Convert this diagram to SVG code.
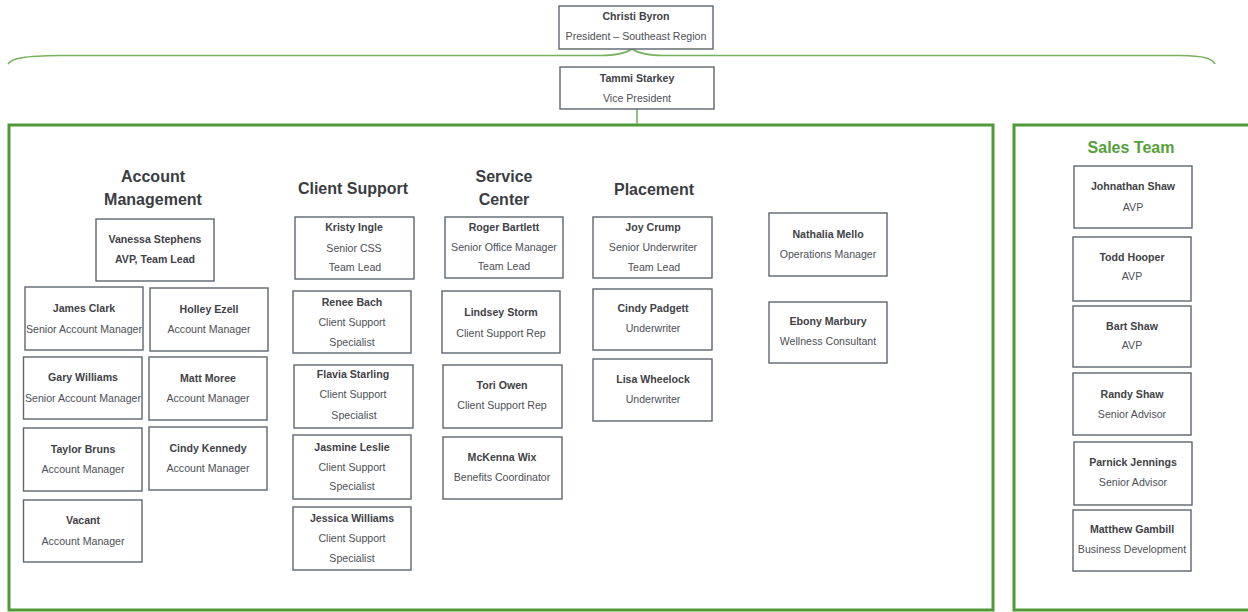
<svg xmlns="http://www.w3.org/2000/svg" width="1248" height="612" viewBox="0 0 1248 612">
  <style>
    .box { fill: #ffffff; stroke: #5f666e; stroke-width: 1.4; }
    .frame { fill: none; stroke: #4f9a37; stroke-width: 3; }
    .link { fill: none; stroke: #78b25e; stroke-width: 1.6; }
    text { font-family: "Liberation Sans", Arial, sans-serif; text-anchor: middle; dominant-baseline: central; }
    .nm { font-size: 10.6px; font-weight: bold; fill: #3f4247; }
    .tt { font-size: 10.6px; fill: #4d5056; }
    .hd { font-size: 16px; font-weight: bold; fill: #3a3d42; }
    .hd-green { font-size: 16px; font-weight: bold; fill: #55a03a; }
  </style>

  <rect width="1248" height="612" fill="#ffffff"/>

  <!-- department frames -->
  <g id="frames">
    <rect class="frame" x="9" y="125" width="984" height="485"/>
    <rect class="frame" x="1014" y="125" width="240" height="485"/>
  </g>

  <!-- connectors -->
  <g id="connectors">
    <path class="link" d="M8,64 C12,58 24,56 60,55.5 L600,55.5 C618,55.5 626,53 632,49 C638,53 646,55.5 664,55.5 L1180,55.5 C1204,56 1212,58 1215,64"/>
    <line class="link" x1="637" y1="109" x2="637" y2="124"/>
  </g>

  <!-- executives -->
  <g id="christi-byron">
    <rect class="box" x="559" y="6" width="154" height="43"/>
    <text class="nm" x="636" y="16">Christi Byron</text>
    <text class="tt" x="636" y="36">President – Southeast Region</text>
  </g>
  <g id="tammi-starkey">
    <rect class="box" x="560" y="67" width="154" height="42"/>
    <text class="nm" x="637" y="78">Tammi Starkey</text>
    <text class="tt" x="637" y="98">Vice President</text>
  </g>

  <!-- Account Management -->
  <g id="hdr-account-management">
    <text class="hd" x="153" y="176">Account</text>
    <text class="hd" x="153" y="199">Management</text>
  </g>
  <g id="vanessa-stephens">
    <rect class="box" x="96" y="219" width="118" height="62"/>
    <text class="nm" x="155" y="239">Vanessa Stephens</text>
    <text class="nm" x="155" y="259">AVP, Team Lead</text>
  </g>
  <g id="james-clark">
    <rect class="box" x="25" y="287" width="118" height="63"/>
    <text class="nm" x="84" y="308">James Clark</text>
    <text class="tt" x="84" y="329">Senior Account Manager</text>
  </g>
  <g id="holley-ezell">
    <rect class="box" x="150" y="288" width="118" height="63"/>
    <text class="nm" x="209" y="309">Holley Ezell</text>
    <text class="tt" x="209" y="329">Account Manager</text>
  </g>
  <g id="gary-williams">
    <rect class="box" x="23.5" y="357" width="118.5" height="62"/>
    <text class="nm" x="83" y="377">Gary Williams</text>
    <text class="tt" x="83" y="398">Senior Account Manager</text>
  </g>
  <g id="matt-moree">
    <rect class="box" x="149" y="357" width="118" height="63"/>
    <text class="nm" x="208" y="378">Matt Moree</text>
    <text class="tt" x="208" y="398">Account Manager</text>
  </g>
  <g id="taylor-bruns">
    <rect class="box" x="23.5" y="428" width="118.5" height="63"/>
    <text class="nm" x="83" y="449">Taylor Bruns</text>
    <text class="tt" x="83" y="469">Account Manager</text>
  </g>
  <g id="cindy-kennedy">
    <rect class="box" x="149" y="427" width="118" height="63"/>
    <text class="nm" x="208" y="448">Cindy Kennedy</text>
    <text class="tt" x="208" y="468">Account Manager</text>
  </g>
  <g id="vacant">
    <rect class="box" x="23.5" y="500" width="118.5" height="62"/>
    <text class="nm" x="83" y="520">Vacant</text>
    <text class="tt" x="83" y="541">Account Manager</text>
  </g>

  <!-- Client Support -->
  <g id="hdr-client-support">
    <text class="hd" x="353" y="188">Client Support</text>
  </g>
  <g id="kristy-ingle">
    <rect class="box" x="295" y="217" width="119" height="62"/>
    <text class="nm" x="354" y="227">Kristy Ingle</text>
    <text class="tt" x="354" y="248">Senior CSS</text>
    <text class="tt" x="355" y="267">Team Lead</text>
  </g>
  <g id="renee-bach">
    <rect class="box" x="293" y="291" width="118" height="62"/>
    <text class="nm" x="352" y="302">Renee Bach</text>
    <text class="tt" x="352" y="322">Client Support</text>
    <text class="tt" x="352" y="342">Specialist</text>
  </g>
  <g id="flavia-starling">
    <rect class="box" x="294" y="365" width="119" height="63"/>
    <text class="nm" x="353" y="374">Flavia Starling</text>
    <text class="tt" x="353" y="394">Client Support</text>
    <text class="tt" x="354" y="415">Specialist</text>
  </g>
  <g id="jasmine-leslie">
    <rect class="box" x="293" y="435" width="118" height="64"/>
    <text class="nm" x="352" y="447">Jasmine Leslie</text>
    <text class="tt" x="352" y="467">Client Support</text>
    <text class="tt" x="352" y="486">Specialist</text>
  </g>
  <g id="jessica-williams">
    <rect class="box" x="293" y="507" width="118" height="63"/>
    <text class="nm" x="352" y="518">Jessica Williams</text>
    <text class="tt" x="352" y="538">Client Support</text>
    <text class="tt" x="352" y="558">Specialist</text>
  </g>

  <!-- Service Center -->
  <g id="hdr-service-center">
    <text class="hd" x="504" y="176">Service</text>
    <text class="hd" x="504" y="199">Center</text>
  </g>
  <g id="roger-bartlett">
    <rect class="box" x="445" y="217" width="118" height="61"/>
    <text class="nm" x="504" y="227">Roger Bartlett</text>
    <text class="tt" x="504" y="247">Senior Office Manager</text>
    <text class="tt" x="504" y="266">Team Lead</text>
  </g>
  <g id="lindsey-storm">
    <rect class="box" x="442" y="291" width="118" height="62"/>
    <text class="nm" x="501" y="312">Lindsey Storm</text>
    <text class="tt" x="501" y="333">Client Support Rep</text>
  </g>
  <g id="tori-owen">
    <rect class="box" x="443" y="365" width="119" height="63"/>
    <text class="nm" x="502" y="385">Tori Owen</text>
    <text class="tt" x="502" y="405">Client Support Rep</text>
  </g>
  <g id="mckenna-wix">
    <rect class="box" x="443" y="437" width="119" height="62"/>
    <text class="nm" x="502" y="457">McKenna Wix</text>
    <text class="tt" x="502" y="477">Benefits Coordinator</text>
  </g>

  <!-- Placement -->
  <g id="hdr-placement">
    <text class="hd" x="654" y="189">Placement</text>
  </g>
  <g id="joy-crump">
    <rect class="box" x="593" y="217" width="119" height="61"/>
    <text class="nm" x="653" y="227">Joy Crump</text>
    <text class="tt" x="653" y="247">Senior Underwriter</text>
    <text class="tt" x="654" y="267">Team Lead</text>
  </g>
  <g id="cindy-padgett">
    <rect class="box" x="593" y="289" width="119" height="61"/>
    <text class="nm" x="653" y="308">Cindy Padgett</text>
    <text class="tt" x="653" y="328">Underwriter</text>
  </g>
  <g id="lisa-wheelock">
    <rect class="box" x="593" y="359" width="119" height="62"/>
    <text class="nm" x="653" y="379">Lisa Wheelock</text>
    <text class="tt" x="653" y="399">Underwriter</text>
  </g>

  <!-- Operations -->
  <g id="nathalia-mello">
    <rect class="box" x="769" y="213" width="118" height="63"/>
    <text class="nm" x="828" y="234">Nathalia Mello</text>
    <text class="tt" x="828" y="254">Operations Manager</text>
  </g>
  <g id="ebony-marbury">
    <rect class="box" x="769" y="302" width="118" height="61"/>
    <text class="nm" x="828" y="321">Ebony Marbury</text>
    <text class="tt" x="828" y="341">Wellness Consultant</text>
  </g>

  <!-- Sales Team -->
  <g id="hdr-sales-team">
    <text class="hd-green" x="1131" y="147">Sales Team</text>
  </g>
  <g id="johnathan-shaw">
    <rect class="box" x="1074" y="166" width="118" height="62"/>
    <text class="nm" x="1133" y="186">Johnathan Shaw</text>
    <text class="tt" x="1133" y="207">AVP</text>
  </g>
  <g id="todd-hooper">
    <rect class="box" x="1073" y="237" width="118" height="64"/>
    <text class="nm" x="1132" y="257">Todd Hooper</text>
    <text class="tt" x="1132" y="276">AVP</text>
  </g>
  <g id="bart-shaw">
    <rect class="box" x="1073" y="306" width="118" height="61"/>
    <text class="nm" x="1132" y="326">Bart Shaw</text>
    <text class="tt" x="1132" y="345">AVP</text>
  </g>
  <g id="randy-shaw">
    <rect class="box" x="1073" y="373" width="118" height="62"/>
    <text class="nm" x="1132" y="394">Randy Shaw</text>
    <text class="tt" x="1132" y="414">Senior Advisor</text>
  </g>
  <g id="parnick-jennings">
    <rect class="box" x="1074" y="442" width="118" height="63"/>
    <text class="nm" x="1133" y="462">Parnick Jennings</text>
    <text class="tt" x="1133" y="482">Senior Advisor</text>
  </g>
  <g id="matthew-gambill">
    <rect class="box" x="1073" y="510" width="118" height="61"/>
    <text class="nm" x="1132" y="529">Matthew Gambill</text>
    <text class="tt" x="1132" y="549">Business Development</text>
  </g>
</svg>
